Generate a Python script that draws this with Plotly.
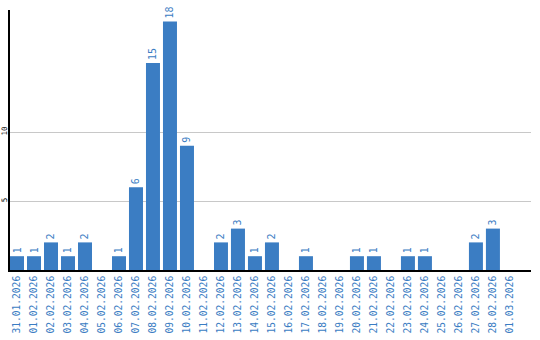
import plotly.graph_objects as go

dates = ["31.01.2026", "01.02.2026", "02.02.2026", "03.02.2026", "04.02.2026",
         "05.02.2026", "06.02.2026", "07.02.2026", "08.02.2026", "09.02.2026",
         "10.02.2026", "11.02.2026", "12.02.2026", "13.02.2026", "14.02.2026",
         "15.02.2026", "16.02.2026", "17.02.2026", "18.02.2026", "19.02.2026",
         "20.02.2026", "21.02.2026", "22.02.2026", "23.02.2026", "24.02.2026",
         "25.02.2026", "26.02.2026", "27.02.2026", "28.02.2026", "01.03.2026"]
counts = [1, 1, 2, 1, 2, 0, 1, 6, 15, 18, 9, 0, 2, 3, 1, 2, 0, 1, 0, 0,
          1, 1, 0, 1, 1, 0, 0, 2, 3, 0]
labels = [str(v) if v > 0 else "" for v in counts]
ytick_vals = [5, 10]

blue = "#3b7dc3"
mono = "DejaVu Sans Mono"

fig = go.Figure(go.Bar(
    x=list(range(len(dates))), y=counts,
    marker=dict(color=blue, line=dict(width=0)),
    width=0.824,
    text=labels, textposition="outside", textangle=-90,
    textfont=dict(family=mono, size=10, color=blue),
    cliponaxis=False,
))

fig.update_layout(
    width=540, height=340,
    margin=dict(l=10, r=9, t=10, b=70),
    paper_bgcolor="white", plot_bgcolor="white",
    showlegend=False,
    xaxis=dict(
        range=[-0.412, 30.24],
        tickmode="array", tickvals=list(range(len(dates))), ticktext=dates,
        tickangle=-90, tickfont=dict(family=mono, size=9.6, color=blue),
        showgrid=False, showline=True, linecolor="black", linewidth=2,
        ticks="", automargin=False, zeroline=False,
    ),
    yaxis=dict(
        range=[0, 18.84],
        tickmode="array", tickvals=ytick_vals,
        tickangle=-90, tickfont=dict(family=mono, size=7.5, color="black"),
        ticklabelstandoff=-2,
        showgrid=True, gridcolor="#c8c8c8", gridwidth=1,
        showline=True, linecolor="black", linewidth=2,
        ticks="", ticklen=0, automargin=False, zeroline=False,
    ),
)

fig.write_html("out.html")
